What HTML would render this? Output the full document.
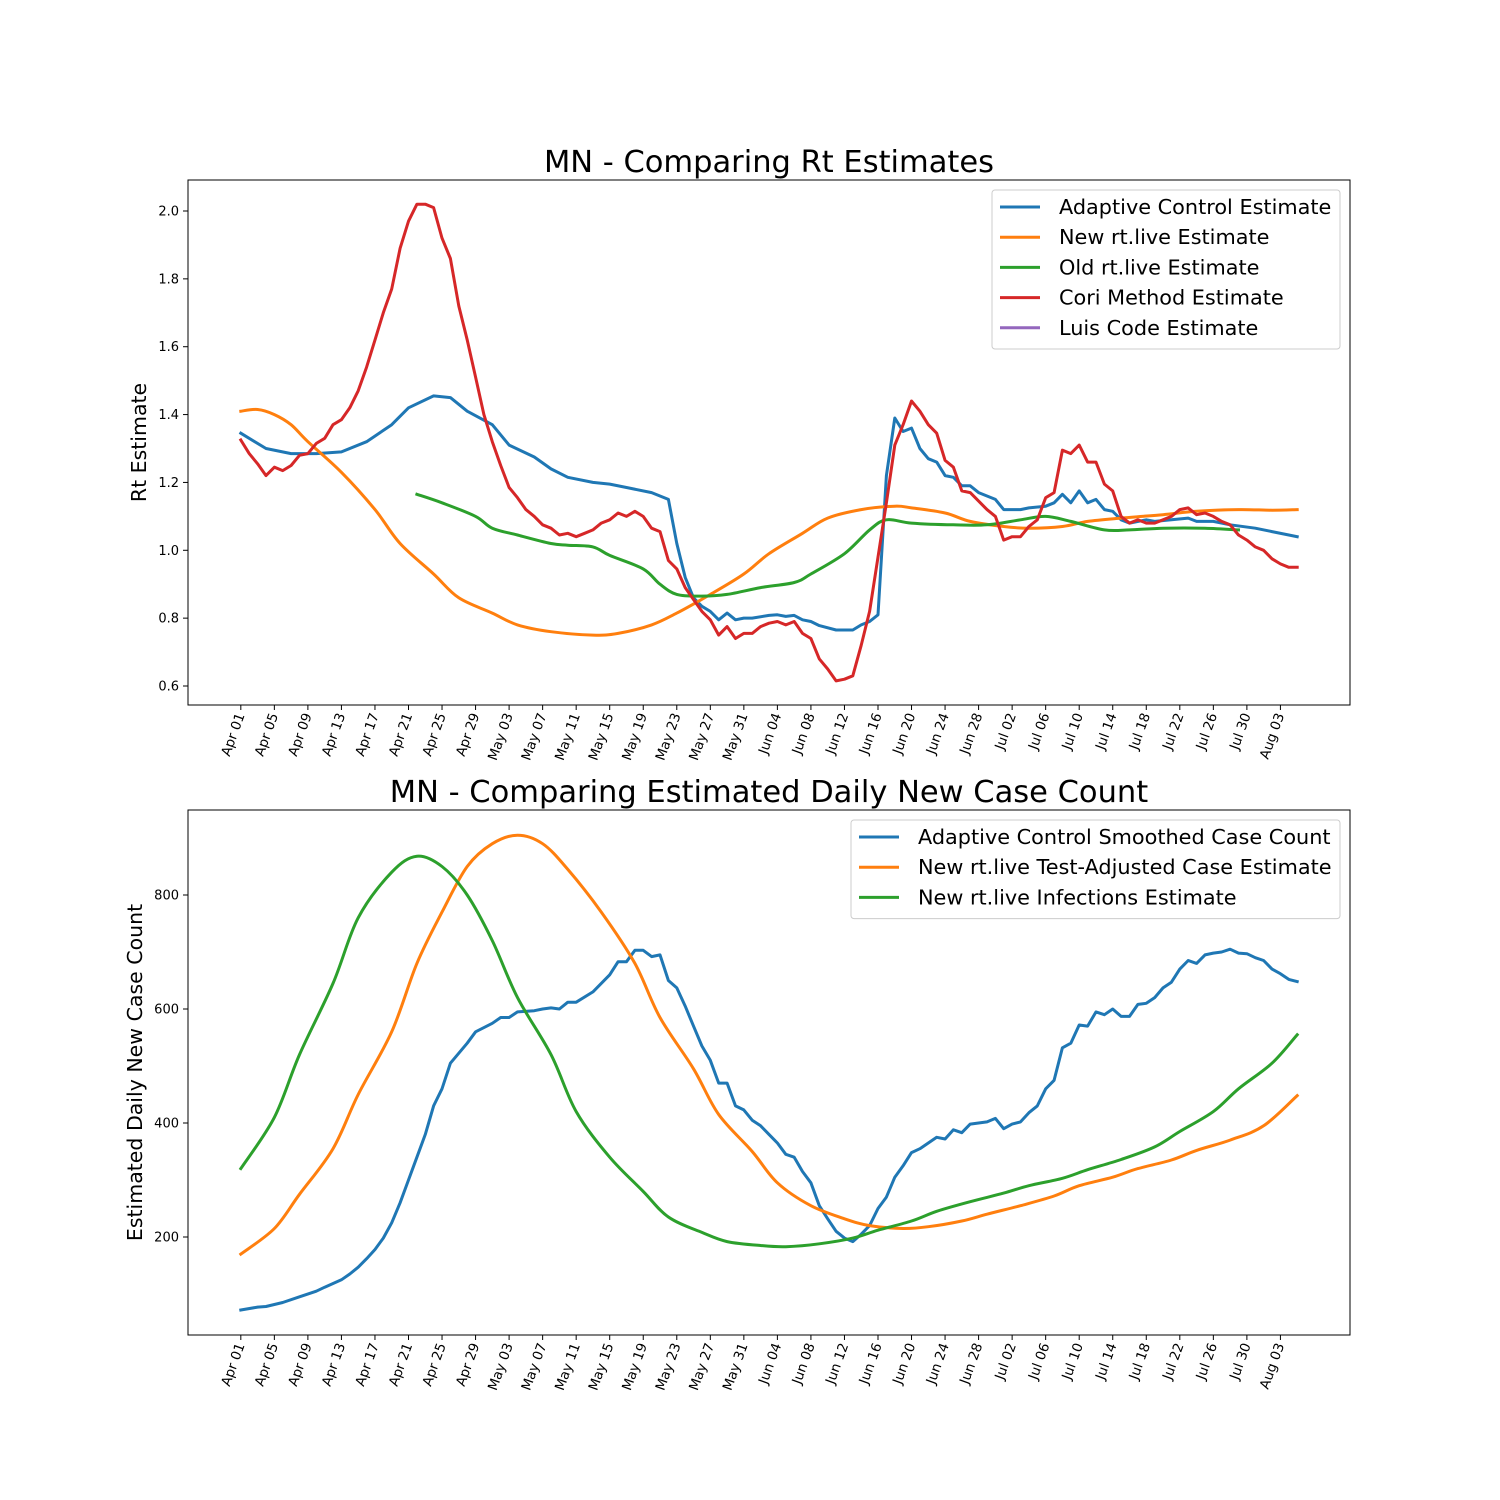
<!DOCTYPE html>
<html><head><meta charset="utf-8"><style>
html,body{margin:0;padding:0;background:#fff}
svg{display:block;font-family:"DejaVu Sans","Liberation Sans",sans-serif}
</style></head><body>
<svg id="fig" width="1500" height="1500" viewBox="0 0 1500 1500" xmlns="http://www.w3.org/2000/svg"></svg>
<script>
// ---- shared x axis ----
const tickLabels = ["Apr 01","Apr 05","Apr 09","Apr 13","Apr 17","Apr 21","Apr 25","Apr 29","May 03","May 07","May 11","May 15","May 19","May 23","May 27","May 31","Jun 04","Jun 08","Jun 12","Jun 16","Jun 20","Jun 24","Jun 28","Jul 02","Jul 06","Jul 10","Jul 14","Jul 18","Jul 22","Jul 26","Jul 30","Aug 03"];
// ---- top chart data (day offset from Apr 01, value) ----
const rtTicks = [0.6,0.8,1.0,1.2,1.4,1.6,1.8,2.0];
const acDays = [0,3,6,9,12,15,18,20,23,25,27,30,32,35,37,39,42,44,46,49,50,51,52,53,54,55,56,57,58,59,60,61,63,64,65,66,67,68,69,71,73,74,75,76,77,78,79,80,81,82,83,84,85,86,87,88,90,91,93,94,96,97,98,99,100,101,102,103,104,105,106,108,109,111,113,114,116,118,121,123,125,126];
const acRt = [1.345,1.30,1.285,1.285,1.29,1.32,1.37,1.42,1.455,1.45,1.41,1.37,1.31,1.275,1.24,1.215,1.20,1.195,1.185,1.17,1.16,1.15,1.02,0.92,0.86,0.835,0.82,0.795,0.815,0.795,0.80,0.80,0.808,0.81,0.805,0.808,0.795,0.79,0.778,0.765,0.765,0.78,0.79,0.81,1.22,1.39,1.35,1.36,1.30,1.27,1.26,1.22,1.215,1.19,1.19,1.17,1.15,1.12,1.12,1.125,1.13,1.14,1.165,1.14,1.175,1.14,1.15,1.12,1.115,1.09,1.08,1.09,1.085,1.09,1.095,1.085,1.085,1.075,1.065,1.055,1.045,1.04];
const newDays = [0,2,4,6,8,12,16,19,23,26,30,33,37,42,45,49,52,56,60,63,67,70,74,78,80,84,87,91,94,98,101,105,110,114,119,123,126];
const newRt = [1.41,1.415,1.40,1.37,1.32,1.23,1.12,1.02,0.93,0.86,0.815,0.78,0.76,0.75,0.755,0.78,0.815,0.87,0.93,0.99,1.05,1.095,1.12,1.13,1.125,1.11,1.085,1.07,1.065,1.07,1.085,1.095,1.105,1.115,1.12,1.118,1.12];
const oldDays = [21,24,28,30,33,37,39,42,44,48,50,52,55,58,62,66,68,72,75,77,80,85,89,93,96,99,103,106,110,115,119];
const oldRt = [1.165,1.14,1.10,1.065,1.045,1.02,1.015,1.01,0.985,0.945,0.90,0.87,0.865,0.87,0.89,0.905,0.93,0.99,1.06,1.09,1.08,1.075,1.075,1.09,1.10,1.085,1.06,1.06,1.065,1.065,1.06];
const coriRt = [1.325,1.285,1.255,1.22,1.245,1.235,1.25,1.28,1.285,1.315,1.33,1.37,1.385,1.42,1.47,1.54,1.62,1.70,1.77,1.89,1.97,2.02,2.02,2.01,1.92,1.86,1.72,1.62,1.51,1.40,1.32,1.25,1.185,1.155,1.12,1.10,1.075,1.065,1.045,1.05,1.04,1.05,1.06,1.08,1.09,1.11,1.10,1.115,1.10,1.065,1.055,0.97,0.945,0.89,0.855,0.82,0.795,0.75,0.775,0.74,0.755,0.755,0.775,0.785,0.79,0.78,0.79,0.755,0.74,0.68,0.65,0.615,0.62,0.63,0.72,0.82,0.98,1.14,1.31,1.37,1.44,1.41,1.37,1.345,1.265,1.245,1.175,1.17,1.145,1.12,1.10,1.03,1.04,1.04,1.07,1.09,1.155,1.17,1.295,1.285,1.31,1.26,1.26,1.195,1.175,1.10,1.08,1.09,1.08,1.08,1.09,1.10,1.12,1.125,1.105,1.11,1.10,1.085,1.075,1.045,1.03,1.01,1.00,0.975,0.96,0.95,0.95];
// ---- bottom chart data ----
const caseTicks = [200,400,600,800];
const acCaseDays = [0,2,3,5,7,9,10,12,13,14,15,16,17,18,19,20,21,22,23,24,25,27,28,30,31,32,33,35,36,37,38,39,40,42,44,45,46,47,48,49,50,51,52,53,54,55,56,57,58,59,60,61,62,63,64,65,66,67,68,69,70,71,72,73,74,75,76,77,78,79,80,81,82,83,84,85,86,87,89,90,91,92,93,94,95,96,97,98,99,100,101,102,103,104,105,106,107,108,109,110,111,112,113,114,115,116,117,118,119,120,121,122,123,124,125,126];
const acCases = [72,77,78,85,95,105,112,125,135,147,162,178,198,225,260,300,340,380,430,460,505,540,560,575,585,585,595,597,600,602,600,612,612,630,660,683,683,703,703,692,695,650,637,605,570,535,510,470,470,430,423,405,395,380,365,345,340,315,295,255,232,210,198,192,205,220,250,270,305,325,348,355,365,375,372,388,383,398,402,408,390,398,402,418,430,460,475,532,540,572,570,595,590,600,587,587,608,610,620,637,647,670,685,680,695,698,700,705,698,697,690,685,670,662,652,648];
const taDays = [0,4,7,11,14,18,21,24,27,30,33,36,39,43,47,50,54,57,61,64,68,72,75,79,82,86,89,93,97,100,104,107,111,114,118,122,126];
const taCases = [170,215,275,355,450,560,680,770,850,890,905,890,845,770,680,585,495,415,350,295,255,232,220,215,218,228,240,255,272,290,305,320,335,352,370,395,448];
const infDays = [0,4,7,11,14,18,21,24,27,30,33,37,40,44,48,51,55,58,62,65,69,73,76,80,83,87,91,94,98,101,105,109,112,116,119,123,126];
const infCases = [320,410,520,645,760,840,868,850,800,720,620,520,420,340,280,235,208,192,185,183,188,198,212,228,245,262,277,290,303,318,336,358,385,420,460,505,555];

const NS="http://www.w3.org/2000/svg";
const svg=document.getElementById('fig');
function mk(tag,attrs,parent){const e=document.createElementNS(NS,tag);for(const k in attrs)e.setAttribute(k,attrs[k]);(parent||svg).appendChild(e);return e;}
const L=188,R=1350;
const xDay=d=>L+(d+6.3)*(R-L)/138.6;
function axes(top,bot,y,yTicks,fmt,title,ylab,prefix,ylx){
  const g=mk('g',{});
  
  
  const t=mk('text',{x:(L+R)/2,y:top-8,'text-anchor':'middle','font-size':30.5,fill:'#000'},g);
  t.textContent=title;
  
  
  yTicks.forEach(v=>{
    mk('line',{x1:L-5,x2:L,y1:y(v),y2:y(v),stroke:'#000','stroke-width':1},g);
    const tt=mk('text',{x:L-9,y:y(v)+4.5,'text-anchor':'end','font-size':13},g);
    tt.textContent=fmt(v);
    
    
  });
  tickLabels.forEach((lab,i)=>{
    const x=xDay(i*4);
    mk('line',{x1:x,x2:x,y1:bot,y2:bot+5,stroke:'#000','stroke-width':1},g);
    const tt=mk('text',{x:0,y:0,'text-anchor':'end','font-size':13.5,transform:`translate(${x+4},${bot+10}) rotate(-70)`},g);
    tt.textContent=lab;
    
    
  });
  const yl=mk('text',{x:0,y:0,'text-anchor':'middle','font-size':20.5,transform:`translate(${ylx},${(top+bot)/2}) rotate(-90)`},g);
  yl.textContent=ylab;
  
  
  return {g,y,top,bot};
}
function series(ax,days,vals,color,name,smooth){
  const P=vals.map((v,i)=>[xDay(days?days[i]:i),ax.y(v)]);
  let d='M'+P[0][0].toFixed(1)+','+P[0][1].toFixed(1);
  for(let i=0;i<P.length-1;i++){
    if(smooth){
      const p0=P[Math.max(0,i-1)],p1=P[i],p2=P[i+1],p3=P[Math.min(P.length-1,i+2)];
      const c1=[p1[0]+(p2[0]-p0[0])/6,p1[1]+(p2[1]-p0[1])/6];
      const c2=[p2[0]-(p3[0]-p1[0])/6,p2[1]-(p3[1]-p1[1])/6];
      d+=` C${c1[0].toFixed(1)},${c1[1].toFixed(1)} ${c2[0].toFixed(1)},${c2[1].toFixed(1)} ${p2[0].toFixed(1)},${p2[1].toFixed(1)}`;
    } else d+=` L${P[i+1][0].toFixed(1)},${P[i+1][1].toFixed(1)}`;
  }
  const p=mk('path',{d:d,fill:'none',stroke:color,'stroke-width':3,'stroke-linejoin':'round','stroke-linecap':'square'},ax.g);
  
  
}
function frame(ax){mk('rect',{x:L,y:ax.top,width:R-L,height:ax.bot-ax.top,fill:'none',stroke:'#000','stroke-width':1},ax.g);}
function legend(ax,x,y,w,entries){
  const lg=mk('g',{},ax.g);
  
  
  mk('rect',{x:x,y:y,width:w,height:entries.length*30.2+8,rx:3,fill:'#fff','fill-opacity':0.8,stroke:'#ccc'},lg);
  entries.forEach((e,i)=>{
    const cy=y+17+i*30.2;
    const it=mk('g',{},lg);
    
    
    mk('line',{x1:x+8,x2:x+48,y1:cy,y2:cy,stroke:e[1],'stroke-width':3},it);
    const t=mk('text',{x:x+67,y:cy+7,'font-size':20.8},it);
    t.textContent=e[0];
  });
}
const C={b:'#1f77b4',o:'#ff7f0e',g:'#2ca02c',r:'#d62728',p:'#9467bd'};
const yRt=v=>686-(v-0.6)*(475/1.4);
const yCase=v=>1237-(v-200)*(342/600);
const a1=axes(180,705,yRt,rtTicks,v=>v.toFixed(1),'MN - Comparing Rt Estimates','Rt Estimate','rt',146);
series(a1,acDays,acRt,C.b,'adaptive-control-line',false);
series(a1,newDays,newRt,C.o,'new-rtlive-line',true);
series(a1,oldDays,oldRt,C.g,'old-rtlive-line',true);
series(a1,null,coriRt,C.r,'cori-method-line',false);
frame(a1);
legend(a1,992,190,348,[['Adaptive Control Estimate',C.b],['New rt.live Estimate',C.o],['Old rt.live Estimate',C.g],['Cori Method Estimate',C.r],['Luis Code Estimate',C.p]]);
const a2=axes(810,1335,yCase,caseTicks,v=>String(v),'MN - Comparing Estimated Daily New Case Count','Estimated Daily New Case Count','cases',142);
series(a2,acCaseDays,acCases,C.b,'adaptive-case-line',false);
series(a2,taDays,taCases,C.o,'test-adjusted-line',true);
series(a2,infDays,infCases,C.g,'infections-line',true);
frame(a2);
legend(a2,851,820,489,[['Adaptive Control Smoothed Case Count',C.b],['New rt.live Test-Adjusted Case Estimate',C.o],['New rt.live Infections Estimate',C.g]]);
</script>
</body></html>
